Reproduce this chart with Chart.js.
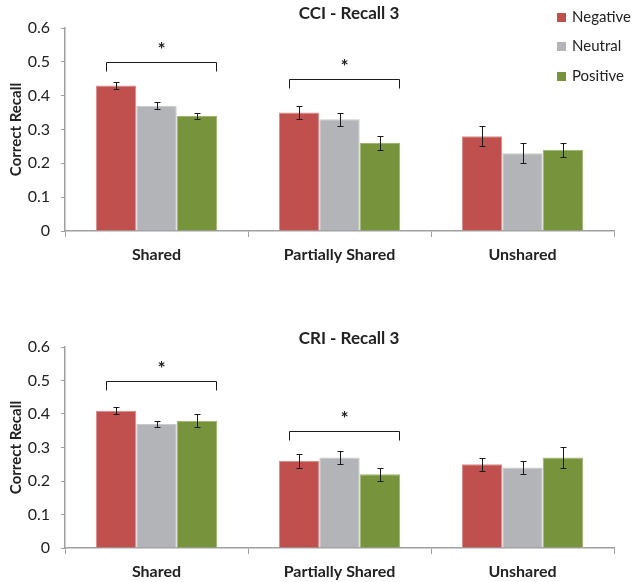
<!DOCTYPE html>
<html>
<head>
<meta charset="utf-8">
<script src="https://cdn.jsdelivr.net/npm/chart.js@4/dist/chart.umd.min.js"></script>
<style>
  html, body { margin: 0; padding: 0; background: #fff; }
  #wrap { position: relative; width: 635px; height: 582px; }
  canvas { position: absolute; left: 0; }
  #cci { top: 0; }
  #cri { top: 291px; }
</style>
</head>
<body>
<div id="wrap">
  <canvas id="cci" width="635" height="291"></canvas>
  <canvas id="cri" width="635" height="291"></canvas>
</div>
<script>
// Conditions and emotion series
const categories = ['Shared', 'Partially Shared', 'Unshared'];
const seriesNames = ['Negative', 'Neutral', 'Positive'];
const yTicks = [0, 0.1, 0.2, 0.3, 0.4, 0.5, 0.6];

// CCI - Recall 3: means and standard errors
const cciNegative = [0.43, 0.35, 0.28];
const cciNeutral  = [0.37, 0.33, 0.23];
const cciPositive = [0.34, 0.26, 0.24];
const cciNegativeErr = [0.01, 0.02, 0.03];
const cciNeutralErr  = [0.01, 0.02, 0.03];
const cciPositiveErr = [0.01, 0.02, 0.02];
const cciSignificance = [{ category: 0, level: 0.50 }, { category: 1, level: 0.45 }];

// CRI - Recall 3: means and standard errors
const criNegative = [0.41, 0.26, 0.25];
const criNeutral  = [0.37, 0.27, 0.24];
const criPositive = [0.38, 0.22, 0.27];
const criNegativeErr = [0.01, 0.02, 0.02];
const criNeutralErr  = [0.01, 0.02, 0.02];
const criPositiveErr = [0.02, 0.02, 0.03];
const criSignificance = [{ category: 0, level: 0.50 }, { category: 1, level: 0.35 }];

const FONT = "Lato, 'Open Sans', sans-serif";
const fills   = ['#C0504D', '#B3B4B8', '#77933C'];
const borders = ['#D88C8A', '#C9CACD', '#9DB36F'];
const AXIS = '#A0A0A0';
const TEXT = '#222222';

// Title, legend, error bars and significance brackets
const decorations = {
  id: 'decorations',
  afterDatasetsDraw(chart, args, opts) {
    const { ctx } = chart;
    const y = chart.scales.y;
    ctx.save();

    // error bars
    ctx.strokeStyle = '#1A1A1A';
    ctx.lineWidth = 1;
    chart.data.datasets.forEach((ds, i) => {
      const meta = chart.getDatasetMeta(i);
      meta.data.forEach((bar, j) => {
        const e = ds.errors[j];
        const yTop = Math.round(y.getPixelForValue(ds.data[j] + e)) + 0.5;
        const yBot = Math.round(y.getPixelForValue(ds.data[j] - e)) + 0.5;
        const x = Math.round(bar.x) + 0.5;
        ctx.beginPath();
        ctx.moveTo(x, yTop); ctx.lineTo(x, yBot);
        ctx.moveTo(x - 3, yTop); ctx.lineTo(x + 3, yTop);
        ctx.moveTo(x - 3, yBot); ctx.lineTo(x + 3, yBot);
        ctx.stroke();
      });
    });

    // significance brackets with asterisks
    ctx.strokeStyle = '#1A1A1A';
    ctx.fillStyle = TEXT;
    ctx.textAlign = 'center';
    ctx.textBaseline = 'middle';
    opts.significance.forEach(s => {
      const first = chart.getDatasetMeta(0).data[s.category];
      const last = chart.getDatasetMeta(chart.data.datasets.length - 1).data[s.category];
      const x0 = Math.round(first.x - first.width * 0.25) + 0.5;
      const x1 = Math.round(last.x + last.width * 0.47) + 0.5;
      const yb = Math.round(y.getPixelForValue(s.level)) + 0.5;
      ctx.beginPath();
      ctx.moveTo(x0, yb + 9); ctx.lineTo(x0, yb); ctx.lineTo(x1, yb); ctx.lineTo(x1, yb + 9);
      ctx.stroke();
      ctx.font = 'bold 19px ' + FONT;
      ctx.fillText('*', (x0 + x1) / 2, yb - 13);
    });

    // chart title
    ctx.font = 'bold 17px ' + FONT;
    ctx.fillText(opts.title, 349, opts.titleY);

    // legend
    if (opts.legend) {
      ctx.font = '15px ' + FONT;
      ctx.textAlign = 'left';
      chart.data.datasets.forEach((ds, i) => {
        const cy = 17 + i * 29.5;
        ctx.fillStyle = ds.backgroundColor;
        ctx.fillRect(557, Math.round(cy - 4.5), 9, 9);
        ctx.fillStyle = TEXT;
        ctx.fillText(ds.label, 572, cy);
      });
    }
    ctx.restore();
  }
};

function makeChart(canvasId, values, errors, significance, title, opts) {
  const H = 291;
  return new Chart(document.getElementById(canvasId), {
    type: 'bar',
    data: {
      labels: categories,
      datasets: seriesNames.map((name, i) => ({
        label: name,
        data: values[i],
        errors: errors[i],
        backgroundColor: fills[i],
        borderColor: borders[i],
        borderWidth: 1,
        categoryPercentage: 0.663,
        barPercentage: 1
      }))
    },
    options: {
      responsive: false,
      animation: false,
      events: [],
      layout: { padding: { top: opts.top, right: 21, left: 0, bottom: 0 } },
      plugins: {
        legend: { display: false },
        title: { display: false },
        tooltip: { enabled: false },
        decorations: { significance, title, titleY: opts.titleY, legend: opts.legend }
      },
      scales: {
        x: {
          afterFit: s => { s.height = H - opts.bottom; },
          grid: { display: true, drawOnChartArea: false, drawTicks: true, tickLength: 6, color: AXIS, lineWidth: 1 },
          border: { display: true, color: AXIS, width: 1.5 },
          ticks: { color: TEXT, padding: 8, font: { family: FONT, size: 16, weight: 'bold' } }
        },
        y: {
          min: 0,
          max: 0.6,
          afterFit: s => { s.width = 65; },
          afterBuildTicks: s => { s.ticks = yTicks.map(v => ({ value: v })); },
          grid: { display: true, drawOnChartArea: false, drawTicks: true, tickLength: 4, color: AXIS, lineWidth: 1 },
          border: { display: true, color: AXIS, width: 1.5 },
          ticks: {
            color: TEXT,
            padding: 11,
            font: { family: FONT, size: 16 },
            callback: v => String(+v.toFixed(1))
          },
          title: {
            display: true,
            text: 'Correct Recall',
            color: TEXT,
            padding: { top: 7, bottom: 0 },
            font: { family: FONT, size: 15, weight: 'bold' }
          }
        }
      }
    },
    plugins: [decorations]
  });
}

makeChart('cci',
  [cciNegative, cciNeutral, cciPositive],
  [cciNegativeErr, cciNeutralErr, cciPositiveErr],
  cciSignificance, 'CCI - Recall 3',
  { top: 28, bottom: 231, titleY: 14, legend: true });

makeChart('cri',
  [criNegative, criNeutral, criPositive],
  [criNegativeErr, criNeutralErr, criPositiveErr],
  criSignificance, 'CRI - Recall 3',
  { top: 56, bottom: 257, titleY: 48, legend: false });
</script>
</body>
</html>
